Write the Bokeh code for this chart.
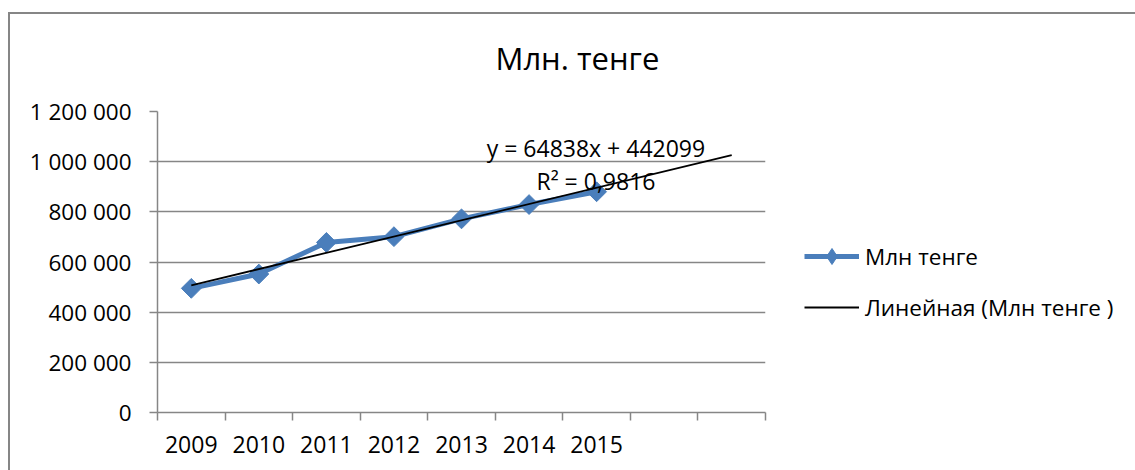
import math
from bokeh.plotting import figure
from bokeh.models import (FixedTicker, Legend, LegendItem, Label,
                          ColumnDataSource, Range1d)
from bokeh.embed import file_html
from bokeh.resources import INLINE

# ---------------- data ----------------
years = ["2009", "2010", "2011", "2012", "2013", "2014", "2015"]
values = [495000, 552000, 678000, 701000, 772000, 829000, 880000]
series_name = "Млн тенге"
trend_name = "Линейная (Млн тенге )"
trend_slope = 64838
trend_intercept = 442099
trend_forward = 2
r_squared = "0,9816"
y_ticks = [0, 200000, 400000, 600000, 800000, 1000000, 1200000]
title_text = "Млн. тенге"

# ---------------- derived ----------------
n_cat = len(years) + trend_forward
xs = list(range(1, len(years) + 1))
trend_x = [1, len(years) + trend_forward]
trend_y = [trend_intercept + trend_slope * x for x in trend_x]

GRAY = "#868686"
BLUE = "#4A7EBB"
FONT = "Open Sans"

p = figure(frame_width=608, frame_height=301,
           x_range=Range1d(0.5, n_cat + 0.5), y_range=Range1d(0, y_ticks[-1]),
           min_border_left=157, min_border_right=370,
           min_border_top=111, min_border_bottom=58,
           output_backend="svg", toolbar_location=None, tools="")
p.outline_line_color = None
p.background_fill_color = "white"
p.border_fill_color = None
# outer chart-area border (only its left and top edges are inside the picture)
p.styles = {
    "background-color": "white",
    "background-image": "linear-gradient(#868686,#868686), linear-gradient(#868686,#868686)",
    "background-size": "2px 100%, 100% 2px",
    "background-position": "8px 12px, 8px 12px",
    "background-repeat": "no-repeat",
}

# title
p.title.text = title_text
p.title.align = "left"
p.title.offset = 338
p.title.standoff = 66
p.title.text_font = FONT
p.title.text_font_size = "31px"
p.title.text_font_style = "normal"
p.title.text_color = "black"

src = ColumnDataSource(dict(x=xs, y=values))
line_r = p.line("x", "y", source=src, line_color=BLUE, line_width=5, line_join="round")
# legend proxy: a diamond marker (hidden under the real markers)
proxy = p.scatter("x", "y", source=src, marker="diamond", size=1,
                  fill_color=BLUE, line_color=BLUE)
p.scatter("x", "y", source=src, marker="square", angle=math.pi / 4, size=14,
          fill_color=BLUE, line_color=BLUE)
trend_r = p.line(trend_x, trend_y, line_color="black", line_width=1.8)

# x axis: ticks between categories, labels at centres
xa = p.xaxis[0]
xa.ticker = FixedTicker(ticks=xs, minor_ticks=[i + 0.5 for i in range(0, n_cat + 1)])
xa.major_label_overrides = {x: y for x, y in zip(xs, years)}
xa.major_tick_out = 0
xa.major_tick_in = 0
xa.minor_tick_out = 8
xa.minor_tick_in = 0
xa.minor_tick_line_color = GRAY
xa.minor_tick_line_width = 1.5
xa.axis_line_color = GRAY
xa.axis_line_width = 1.5
xa.major_label_standoff = 15
xa.major_label_text_font = FONT
xa.major_label_text_font_size = "23px"
xa.major_label_text_color = "black"

ya = p.yaxis[0]
ya.ticker = FixedTicker(ticks=y_ticks)
ya.major_label_overrides = {v: f"{v:,}".replace(",", " ") for v in y_ticks}
ya.major_tick_out = 8
ya.major_tick_in = 0
ya.minor_tick_out = 0
ya.minor_tick_in = 0
ya.major_tick_line_color = GRAY
ya.major_tick_line_width = 1.5
ya.axis_line_color = GRAY
ya.axis_line_width = 1.5
ya.major_label_standoff = 18
ya.major_label_text_font = FONT
ya.major_label_text_font_size = "22.5px"
ya.major_label_text_color = "black"

p.xgrid.visible = False
p.ygrid.ticker = FixedTicker(ticks=y_ticks)
p.ygrid.grid_line_color = GRAY
p.ygrid.grid_line_width = 1.5

legend = Legend(items=[LegendItem(label=series_name, renderers=[line_r, proxy]),
                       LegendItem(label=trend_name, renderers=[trend_r])],
                location=(39, 85), glyph_width=55, glyph_height=40, spacing=11,
                padding=0, margin=0, label_standoff=6,
                border_line_color=None, background_fill_alpha=0,
                label_text_font=FONT, label_text_font_size="22.5px",
                label_text_color="black")
p.add_layout(legend, "right")

p.add_layout(Label(x=6.99, y=1055000, text=f"y = {trend_slope}x + {trend_intercept}",
                   text_align="center", text_baseline="alphabetic",
                   text_font=FONT, text_font_size="23px", text_color="black"))
p.add_layout(Label(x=6.99, y=924000, text=f"R² = {r_squared}",
                   text_align="center", text_baseline="alphabetic",
                   text_font=FONT, text_font_size="23px", text_color="black"))

open("out.html", "w").write(file_html(p, INLINE))
